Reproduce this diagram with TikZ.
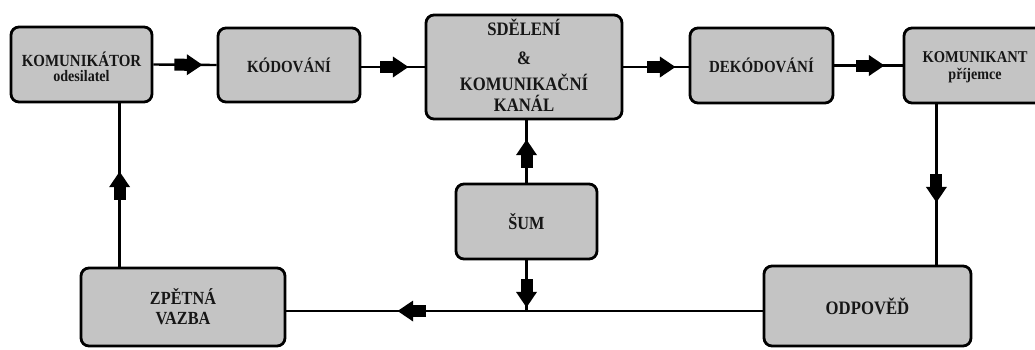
\documentclass[tikz,border=0pt]{standalone}
\usepackage{fontspec}
\setmainfont{Liberation Serif}[FakeStretch=0.88]
\usetikzlibrary{decorations.markings,calc}
\definecolor{boxgray}{RGB}{196,196,196}
\definecolor{ink}{RGB}{22,22,22}
\newcommand\fatarrowshape{%
  \fill[black] (-28pt,-6pt) rectangle (-14.5pt,6pt);
  \fill[black] (-15.5pt,-10.5pt) -- (0pt,0pt) -- (-15.5pt,10.5pt) -- cycle;}
\newcommand\lowered[2]{\raisebox{-#1}[\height][\depth]{\begin{tabular}{@{}c@{}}#2\end{tabular}}}
\tikzset{
  box/.style={draw=black, line width=2.8pt, fill=boxgray, rounded corners=8pt,
    inner sep=0pt, align=center, text=ink,
    font=\bfseries\fontsize{17}{19}\selectfont},
  conn/.style={draw=black, line width=2.4pt},
  fatat/.style={postaction={decorate, decoration={markings,
    mark=at position #1 with {\fatarrowshape}}}},
}
\begin{document}
\begin{tikzpicture}[x=1pt,y=-1pt]
\fill[white] (0,0) rectangle (1035,349);
\useasboundingbox (0,0) rectangle (1035,349);

% boxes
\node[box, minimum width=141pt, minimum height=75pt] (kom) at (81.5,64.5)
  {\lowered{5pt}{KOMUNIKÁTOR\\[-4pt]{\fontsize{16}{17}\selectfont odesilatel}}};
\node[box, minimum width=142pt, minimum height=74pt] (kod) at (289,65) {KÓDOVÁNÍ};
\node[box, minimum width=196pt, minimum height=104pt,
  font=\bfseries\fontsize{19}{22}\selectfont] (sdel) at (524,67)
  {\lowered{2pt}{SDĚLENÍ\\[7pt]\&\\[2pt]KOMUNIKAČNÍ\\[-1pt]KANÁL}};
\node[box, minimum width=143pt, minimum height=75pt] (dek) at (761.5,65.5) {DEKÓDOVÁNÍ};
\node[box, minimum width=142pt, minimum height=75pt,
  font=\bfseries\fontsize{16.5}{19}\selectfont] (komt) at (975,65.5)
  {\lowered{2pt}{KOMUNIKANT\\[-2pt]{\fontsize{16}{17}\selectfont příjemce}}};
\node[box, minimum width=141pt, minimum height=75pt,
  font=\bfseries\fontsize{18.5}{20}\selectfont] (sum) at (526.5,221.5) {ŠUM};
\node[box, minimum width=204pt, minimum height=78pt,
  font=\bfseries\fontsize{18.5}{20}\selectfont] (zpet) at (183,307)
  {ZPĚTNÁ\\VAZBA};
\node[box, minimum width=207pt, minimum height=80pt,
  font=\bfseries\fontsize{19}{21}\selectfont] (odp) at (867.5,306) {ODPOVĚĎ};

% helper coordinates
\coordinate (hl) at (0,311);
\coordinate (j) at (sum.south |- hl);
\coordinate (ou) at ($(odp.north east)+(-36,0)$);
\coordinate (zu) at ($(zpet.north west)+(40,0)$);

% connectors
\draw[conn, fatat=49pt] (kom.east) -- (kod.west);
\draw[conn, fatat=47pt] (kod.east |- sdel.west) -- (sdel.west);
\draw[conn, fatat=52pt] (sdel.east) -- (sdel.east -| dek.west);
\draw[conn, fatat=50pt] (dek.east) -- (komt.west);
\draw[conn, fatat=98pt] (ou |- komt.south) -- (ou);
\draw[conn, fatat=43pt] (sum.north) -- (sum.north |- sdel.south);
\draw[conn, fatat=47pt] (sum.south) -- (j);
\draw[conn, fatat=365pt] (odp.west |- hl) -- (zpet.east |- hl);
\draw[conn, fatat=95pt] (zu) -- (zu |- kom.south);
\end{tikzpicture}
\end{document}
